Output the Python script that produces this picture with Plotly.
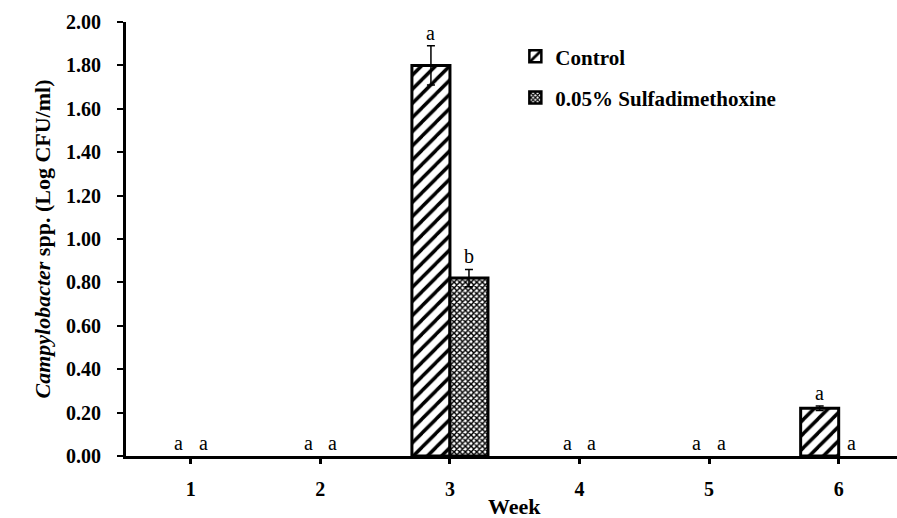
import plotly.graph_objects as go

weeks = ["1", "2", "3", "4", "5", "6"]
control = [0, 0, 1.80, 0, 0, 0.22]
control_err = [0, 0, 0.09, 0, 0, 0.01]
sulfa = [0, 0, 0.82, 0, 0, 0]
sulfa_err = [0, 0, 0.04, 0, 0, 0]
control_letters = ["a", "a", "a", "a", "a", "a"]
sulfa_letters = ["a", "a", "b", "a", "a", "a"]
y_ticks = [0, 0.2, 0.4, 0.6, 0.8, 1.0, 1.2, 1.4, 1.6, 1.8, 2.0]

FONT = '"Liberation Serif", "Times New Roman", serif'
xs = list(range(len(weeks)))
bar_w = 0.2935
x_range = [-0.5, 5.45]

pat_control = dict(shape="/", fgcolor="black", bgcolor="white", size=10, solidity=0.35, fgopacity=1)
pat_sulfa = dict(shape="x", fgcolor="black", bgcolor="white", size=4, solidity=0.6, fgopacity=1)

fig = go.Figure()
series = [("Control", control, control_err, pat_control, "legend", -bar_w),
          ("0.05% Sulfadimethoxine", sulfa, sulfa_err, pat_sulfa, "legend2", 0.0)]
for name, vals, errs, pat, leg, off in series:
    # zero means (nothing drawn in the original) are left empty
    fig.add_trace(go.Bar(
        x=xs, y=[v if v > 0 else None for v in vals], name=name, showlegend=False, legendgroup=name,
        width=bar_w, offset=off,
        marker=dict(color="white", line=dict(color="black", width=3), pattern=pat),
        error_y=dict(type="data", array=errs, color="black", thickness=1.5, width=4),
    ))
for name, vals, errs, pat, leg, off in series:
    fig.add_trace(go.Bar(
        x=[None], y=[None], name=name, legend=leg, legendgroup=name, showlegend=True,
        marker=dict(color="white", line=dict(color="black", width=2.5), pattern=pat),
    ))

for vals, errs, letters, sign in [(control, control_err, control_letters, -1),
                                  (sulfa, sulfa_err, sulfa_letters, 1)]:
    for i, (v, e, t) in enumerate(zip(vals, errs, letters)):
        off = bar_w / 2 if v > 0 else 0.095
        fig.add_annotation(x=i + sign * off, y=v + e, text=t, showarrow=False,
                           yanchor="bottom", yshift=0,
                           font=dict(family=FONT, size=20, color="black"))

# x-axis title centred on the category span
fig.add_annotation(text="Week", xref="x", yref="paper", x=(xs[0] + xs[-1]) / 2,
                   y=0, yshift=-50, yanchor="middle", xanchor="center", showarrow=False,
                   font=dict(family=FONT, size=22, color="black", weight="bold"))

legend_font = dict(family=FONT, size=21, color="black", weight="bold")
fig.update_layout(
    width=897, height=518,
    margin=dict(l=126, r=0, t=22, b=62),
    paper_bgcolor="white", plot_bgcolor="white",
    barmode="overlay",
    font=dict(family=FONT, size=20, color="black"),
    legend=dict(x=0.505, y=0.92, xanchor="left", yanchor="middle",
                font=legend_font, bgcolor="rgba(0,0,0,0)", itemwidth=30),
    legend2=dict(x=0.505, y=0.825, xanchor="left", yanchor="middle",
                 font=legend_font, bgcolor="rgba(0,0,0,0)", itemwidth=30),
    showlegend=True,
)
fig.update_xaxes(
    range=x_range, tickvals=xs, ticktext=weeks,
    showline=True, linecolor="black", linewidth=3,
    ticks="outside", ticklen=5, tickwidth=3, tickcolor="black",
    showgrid=False, zeroline=False, automargin=False,
    tickfont=dict(family=FONT, size=20, color="black", weight="bold"),
    ticklabelstandoff=8,
)
fig.update_yaxes(
    range=[0, 2.0], tickvals=y_ticks, ticktext=[f"{v:.2f}" for v in y_ticks],
    showline=True, linecolor="black", linewidth=3,
    ticks="outside", ticklen=6, tickwidth=2, tickcolor="black",
    showgrid=False, zeroline=False, automargin=False,
    tickfont=dict(family=FONT, size=20, color="black", weight="bold"),
    ticklabelstandoff=12,
    title=dict(text="<i>Campylobacter</i> spp. (Log CFU/ml)",
               font=dict(family=FONT, size=22, color="black", weight="bold"), standoff=10),
)

fig.write_html("out.html")
